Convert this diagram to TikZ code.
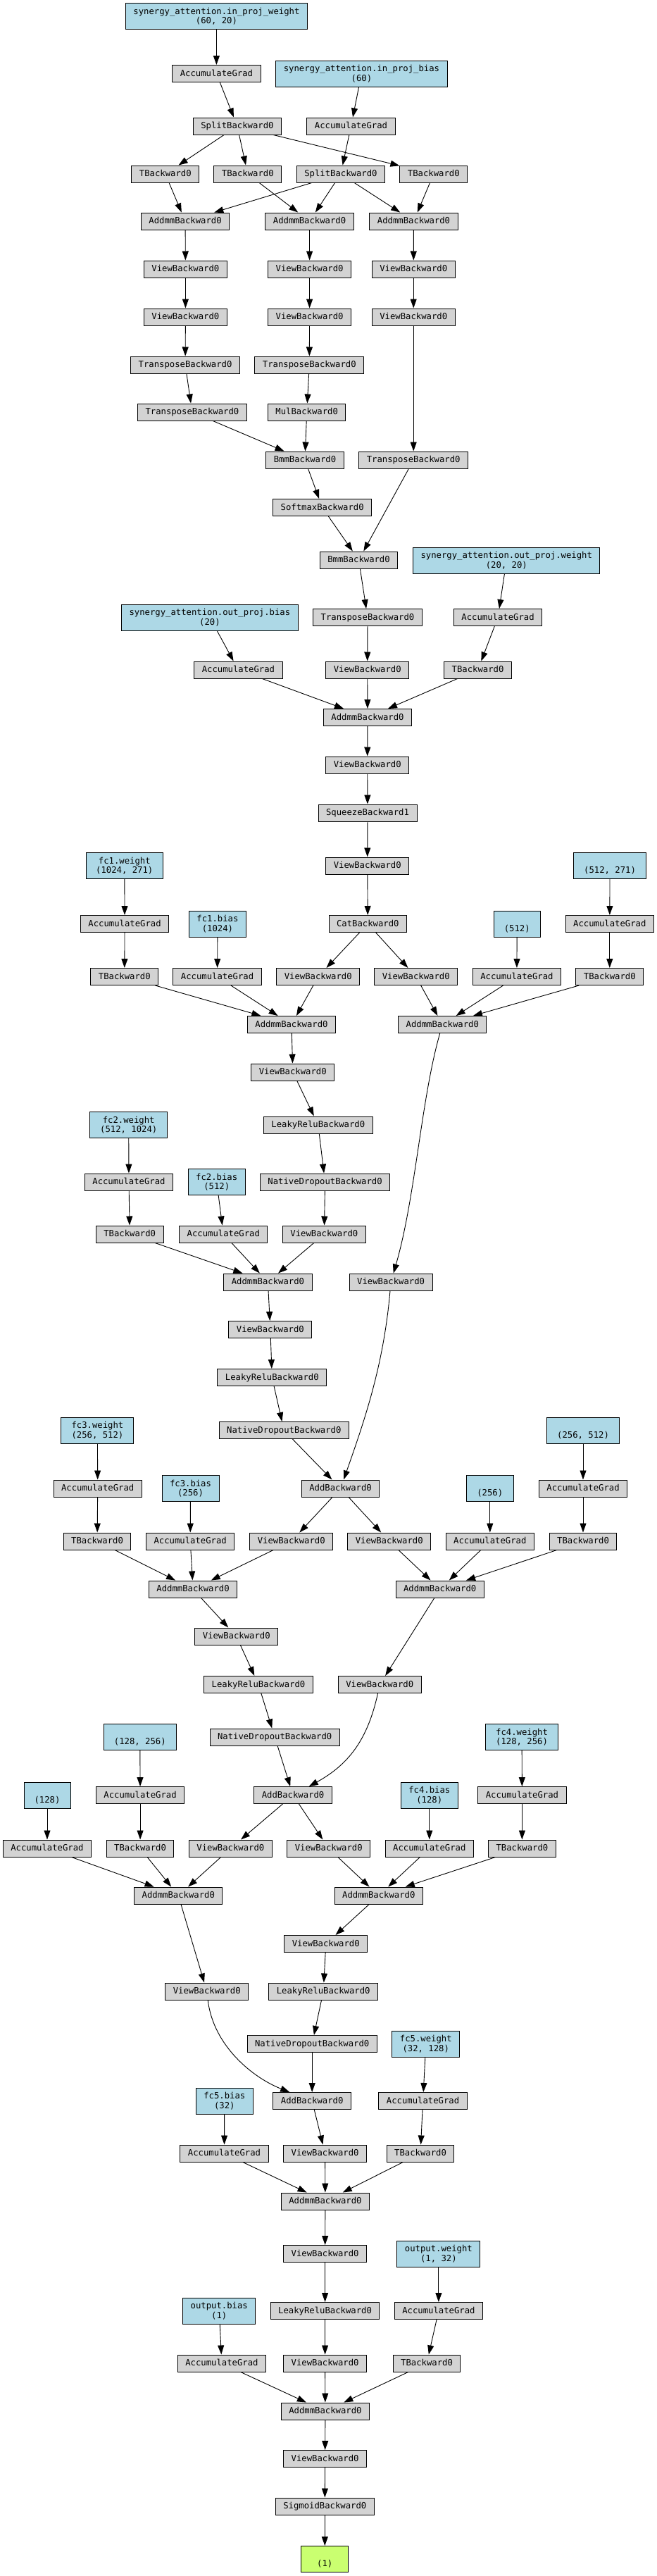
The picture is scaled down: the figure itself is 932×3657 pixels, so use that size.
\documentclass[tikz,border=0pt]{standalone}
\usepackage{fontspec}
\usepackage{xcolor}
\usetikzlibrary{arrows.meta}
\newfontfamily\boxmono{DejaVu Sans Mono}
\definecolor{fnfill}{HTML}{D3D3D3}
\definecolor{parfill}{HTML}{ADD8E6}
\definecolor{resfill}{HTML}{CAFF70}

\begin{document}
\begin{tikzpicture}[x=1pt,y=-1pt,
  fn/.style={draw, fill=fnfill, line width=1pt, minimum height=24pt, inner xsep=11pt, inner ysep=0pt, text height=9.3pt, text depth=2pt, font=\fontsize{12.25}{13.5}\boxmono},
  param/.style={draw, fill=parfill, line width=1pt, minimum height=37pt, inner xsep=11pt, inner ysep=0pt, align=center, font=\fontsize{12.25}{13.5}\boxmono},
  res/.style={param, fill=resfill},
  link/.style={line width=0.9pt, -{Triangle[length=13pt,width=9pt]}}]

\useasboundingbox (0,0) rectangle (932,3657);

\node[param] (w_in) at (307.4,23.3) {synergy\_attention.in\_proj\_weight\\(60, 20)};
\node[fn] (ag1) at (307.4,104.5) {AccumulateGrad};
\node[param] (b_in) at (513.4,104.5) {synergy\_attention.in\_proj\_bias\\(60)};
\node[fn] (split1) at (336.9,179) {SplitBackward0};
\node[fn] (ag2) at (498.5,179) {AccumulateGrad};
\node[fn] (t1) at (234.8,247) {TBackward0};
\node[fn] (t2) at (351.8,247) {TBackward0};
\node[fn] (split2) at (483.9,247) {SplitBackward0};
\node[fn] (t3) at (615.8,247) {TBackward0};
\node[fn] (addmm1) at (263.1,314) {AddmmBackward0};
\node[fn] (addmm2) at (439.6,314) {AddmmBackward0};
\node[fn] (addmm3) at (587.5,314) {AddmmBackward0};
\node[fn] (view1a) at (263.4,382) {ViewBackward0};
\node[fn] (view2a) at (439.6,382) {ViewBackward0};
\node[fn] (view3a) at (587.2,382) {ViewBackward0};
\node[fn] (view1b) at (263.4,450) {ViewBackward0};
\node[fn] (view2b) at (439.6,450) {ViewBackward0};
\node[fn] (view3b) at (587.2,450) {ViewBackward0};
\node[fn] (tr1) at (263.1,518) {TransposeBackward0};
\node[fn] (tr2) at (439.3,518) {TransposeBackward0};
\node[fn] (tr3) at (272.9,585) {TransposeBackward0};
\node[fn] (mul) at (435.7,585) {MulBackward0};
\node[fn] (bmm1) at (433.0,653) {BmmBackward0};
\node[fn] (tr4) at (587.2,653) {TransposeBackward0};
\node[fn] (softmax) at (457.7,720.5) {SoftmaxBackward0};
\node[fn] (bmm2) at (509.5,795) {BmmBackward0};
\node[param] (w_out) at (719.3,795.5) {synergy\_attention.out\_proj.weight\\(20, 20)};
\node[param] (b_out) at (297.9,876.5) {synergy\_attention.out\_proj.bias\\(20)};
\node[fn] (tr5) at (522.0,876.5) {TransposeBackward0};
\node[fn] (ag3) at (707.1,876.5) {AccumulateGrad};
\node[fn] (ag4) at (338.4,951) {AccumulateGrad};
\node[fn] (view4) at (521.7,951) {ViewBackward0};
\node[fn] (t4) at (678.6,951) {TBackward0};
\node[fn] (addmm4) at (522.0,1018.5) {AddmmBackward0};
\node[fn] (view5) at (521.7,1086) {ViewBackward0};
\node[fn] (squeeze) at (522.0,1154) {SqueezeBackward1};
\node[param, minimum width=109.5pt] (fc1w) at (176.8,1229) {fc1.weight\\(1024, 271)};
\node[fn] (view6) at (521.7,1229) {ViewBackward0};
\node[param, minimum width=102.4pt] (p1) at (866.1,1229) {\strut\\(512, 271)};
\node[fn] (ag5) at (177.1,1311.5) {AccumulateGrad};
\node[param] (fc1b) at (308.9,1311.5) {fc1.bias\\(1024)};
\node[fn] (cat) at (522.3,1311.5) {CatBackward0};
\node[param, minimum width=66pt] (p2) at (734.2,1311.5) {\strut\\(512)};
\node[fn] (ag6) at (865.8,1311.5) {AccumulateGrad};
\node[fn] (t5) at (176.8,1386.5) {TBackward0};
\node[fn] (ag7) at (308.6,1386.5) {AccumulateGrad};
\node[fn] (view7) at (451.8,1386.5) {ViewBackward0};
\node[fn] (view8) at (590.8,1386.5) {ViewBackward0};
\node[fn] (ag8) at (733.9,1386.5) {AccumulateGrad};
\node[fn] (t6) at (865.8,1386.5) {TBackward0};
\node[fn] (addmm5) at (414.0,1454.5) {AddmmBackward0};
\node[fn] (addmm6) at (628.3,1454.5) {AddmmBackward0};
\node[fn] (view9) at (415.8,1522) {ViewBackward0};
\node[param, minimum width=109.5pt] (fc2w) at (182.7,1597) {fc2.weight\\(512, 1024)};
\node[fn] (leaky1) at (451.8,1597) {LeakyReluBackward0};
\node[fn] (ag9) at (183.0,1678) {AccumulateGrad};
\node[param] (fc2b) at (307.7,1678) {fc2.bias\\(512)};
\node[fn] (drop1) at (461.6,1678) {NativeDropoutBackward0};
\node[fn] (t7) at (184.2,1752) {TBackward0};
\node[fn] (ag10) at (317.3,1752) {AccumulateGrad};
\node[fn] (view10) at (460.4,1752) {ViewBackward0};
\node[fn] (addmm7) at (380.4,1820) {AddmmBackward0};
\node[fn] (view11) at (555.1,1820) {ViewBackward0};
\node[fn] (view12) at (383.9,1887.5) {ViewBackward0};
\node[fn] (leaky2) at (386.3,1955.5) {LeakyReluBackward0};
\node[param, minimum width=103pt] (fc3w) at (138.4,2030.5) {fc3.weight\\(256, 512)};
\node[fn] (drop2) at (403.3,2030.5) {NativeDropoutBackward0};
\node[param, minimum width=102.4pt] (p3) at (828.0,2030.5) {\strut\\(256, 512)};
\node[fn] (ag11) at (138.7,2113) {AccumulateGrad};
\node[param] (fc3b) at (270.5,2113) {fc3.bias\\(256)};
\node[fn] (add1) at (483.6,2113) {AddBackward0};
\node[param, minimum width=66.7pt] (p4) at (695.8,2113) {\strut\\(256)};
\node[fn] (ag12) at (828.0,2113) {AccumulateGrad};
\node[fn] (t8) at (138.1,2188) {TBackward0};
\node[fn] (ag13) at (270.2,2188) {AccumulateGrad};
\node[fn] (view13) at (413.7,2188) {ViewBackward0};
\node[fn] (view14) at (552.7,2188) {ViewBackward0};
\node[fn] (ag14) at (695.8,2188) {AccumulateGrad};
\node[fn] (t9) at (828.0,2188) {TBackward0};
\node[fn] (addmm8) at (274.1,2256) {AddmmBackward0};
\node[fn] (addmm9) at (624.7,2256) {AddmmBackward0};
\node[fn] (view15) at (335.7,2323) {ViewBackward0};
\node[fn] (leaky3) at (367.0,2391.5) {LeakyReluBackward0};
\node[fn] (view16) at (539.3,2391.5) {ViewBackward0};
\node[param, minimum width=102.4pt] (p5) at (198.8,2466) {\strut\\(128, 256)};
\node[fn] (drop3) at (390.2,2466) {NativeDropoutBackward0};
\node[param, minimum width=102.4pt] (fc4w) at (741.1,2466) {fc4.weight\\(128, 256)};
\node[param, minimum width=66pt] (p6) at (67.0,2548.5) {\strut\\(128)};
\node[fn] (ag15) at (199.1,2548.5) {AccumulateGrad};
\node[fn] (add2) at (416.1,2548.5) {AddBackward0};
\node[param] (fc4b) at (609.8,2548.5) {fc4.bias\\(128)};
\node[fn] (ag16) at (741.4,2548.5) {AccumulateGrad};
\node[fn] (ag17) at (67.0,2624) {AccumulateGrad};
\node[fn] (t10) at (199.1,2624) {TBackward0};
\node[fn] (view17) at (327.4,2624) {ViewBackward0};
\node[fn] (view18) at (466.7,2624) {ViewBackward0};
\node[fn] (ag18) at (609.8,2624) {AccumulateGrad};
\node[fn] (t11) at (741.4,2624) {TBackward0};
\node[fn] (addmm10) at (253.3,2691) {AddmmBackward0};
\node[fn] (addmm11) at (537.8,2691) {AddmmBackward0};
\node[fn] (view19) at (462.8,2759.5) {ViewBackward0};
\node[fn] (view20) at (293.75,2827) {ViewBackward0};
\node[fn] (leaky4) at (459.2,2827) {LeakyReluBackward0};
\node[fn] (drop4) at (443.2,2901.5) {NativeDropoutBackward0};
\node[param, minimum width=95.2pt] (fc5w) at (604.8,2901.5) {fc5.weight\\(32, 128)};
\node[param] (fc5b) at (318.75,2982.5) {fc5.bias\\(32)};
\node[fn] (add3) at (443.2,2982.5) {AddBackward0};
\node[fn] (ag19) at (600.6,2982.5) {AccumulateGrad};
\node[fn] (ag20) at (318.5,3057) {AccumulateGrad};
\node[fn] (view21) at (461.6,3057) {ViewBackward0};
\node[fn] (t12) at (597.0,3057) {TBackward0};
\node[fn] (addmm12) at (461.9,3125) {AddmmBackward0};
\node[fn] (view22) at (461.6,3199.5) {ViewBackward0};
\node[param] (ow) at (622.9,3199.5) {output.weight\\(1, 32)};
\node[param] (ob) at (311.3,3280.5) {output.bias\\(1)};
\node[fn] (leaky5) at (461.6,3280.5) {LeakyReluBackward0};
\node[fn] (ag21) at (622.9,3280.5) {AccumulateGrad};
\node[fn] (ag22) at (314.9,3355) {AccumulateGrad};
\node[fn] (view23) at (461.6,3355) {ViewBackward0};
\node[fn] (t13) at (606.0,3355) {TBackward0};
\node[fn] (addmm13) at (461.9,3423) {AddmmBackward0};
\node[fn] (view24) at (461.6,3490.5) {ViewBackward0};
\node[fn] (sigmoid) at (461.3,3558) {SigmoidBackward0};
\node[res, minimum width=66.7pt] (out) at (461.3,3633) {\strut\\(1)};

\draw[link] (w_in) -- (ag1);
\draw[link] (ag1) -- (split1);
\draw[link] (b_in) -- (ag2);
\draw[link] (ag2) -- (split2);
\draw[link] (split1) -- (t1);
\draw[link] (split1) -- (t2);
\draw[link] (split1) -- (t3);
\draw[link] (t1) -- (addmm1);
\draw[link] (split2) -- (addmm1);
\draw[link] (t2) -- (addmm2);
\draw[link] (split2) -- (addmm2);
\draw[link] (split2) -- (addmm3);
\draw[link] (t3) -- (addmm3);
\draw[link] (addmm1) -- (view1a);
\draw[link] (view1a) -- (view1b);
\draw[link] (view1b) -- (tr1);
\draw[link] (tr1) -- (tr3);
\draw[link] (tr3) -- (bmm1);
\draw[link] (addmm2) -- (view2a);
\draw[link] (view2a) -- (view2b);
\draw[link] (view2b) -- (tr2);
\draw[link] (tr2) -- (mul);
\draw[link] (mul) -- (bmm1);
\draw[link] (addmm3) -- (view3a);
\draw[link] (view3a) -- (view3b);
\draw[link] (view3b) -- (tr4);
\draw[link] (tr4) -- (bmm2);
\draw[link] (bmm1) -- (softmax);
\draw[link] (softmax) -- (bmm2);
\draw[link] (bmm2) -- (tr5);
\draw[link] (tr5) -- (view4);
\draw[link] (w_out) -- (ag3);
\draw[link] (ag3) -- (t4);
\draw[link] (b_out) -- (ag4);
\draw[link] (ag4) -- (addmm4);
\draw[link] (view4) -- (addmm4);
\draw[link] (t4) -- (addmm4);
\draw[link] (addmm4) -- (view5);
\draw[link] (view5) -- (squeeze);
\draw[link] (squeeze) -- (view6);
\draw[link] (view6) -- (cat);
\draw[link] (fc1w) -- (ag5);
\draw[link] (ag5) -- (t5);
\draw[link] (fc1b) -- (ag7);
\draw[link] (cat) -- (view7);
\draw[link] (cat) -- (view8);
\draw[link] (p1) -- (ag6);
\draw[link] (ag6) -- (t6);
\draw[link] (p2) -- (ag8);
\draw[link] (t5) -- (addmm5);
\draw[link] (ag7) -- (addmm5);
\draw[link] (view7) -- (addmm5);
\draw[link] (view8) -- (addmm6);
\draw[link] (ag8) -- (addmm6);
\draw[link] (t6) -- (addmm6);
\draw[link] (addmm5) -- (view9);
\draw[link] (view9) -- (leaky1);
\draw[link] (leaky1) -- (drop1);
\draw[link] (drop1) -- (view10);
\draw[link] (fc2w) -- (ag9);
\draw[link] (ag9) -- (t7);
\draw[link] (fc2b) -- (ag10);
\draw[link] (t7) -- (addmm7);
\draw[link] (ag10) -- (addmm7);
\draw[link] (view10) -- (addmm7);
\draw[link] (addmm6) .. controls (598,1560) and (590,1700) .. (view11);
\draw[link] (addmm7) -- (view12);
\draw[link] (view12) -- (leaky2);
\draw[link] (leaky2) -- (drop2);
\draw[link] (drop2) -- (add1);
\draw[link] (view11) .. controls (545,1935) and (520,2010) .. (add1);
\draw[link] (fc3w) -- (ag11);
\draw[link] (ag11) -- (t8);
\draw[link] (fc3b) -- (ag13);
\draw[link] (add1) -- (view13);
\draw[link] (add1) -- (view14);
\draw[link] (p3) -- (ag12);
\draw[link] (ag12) -- (t9);
\draw[link] (p4) -- (ag14);
\draw[link] (t8) -- (addmm8);
\draw[link] (ag13) -- (addmm8);
\draw[link] (view13) -- (addmm8);
\draw[link] (view14) -- (addmm9);
\draw[link] (ag14) -- (addmm9);
\draw[link] (t9) -- (addmm9);
\draw[link] (addmm8) -- (view15);
\draw[link] (view15) -- (leaky3);
\draw[link] (leaky3) -- (drop3);
\draw[link] (drop3) -- (add2);
\draw[link] (addmm9) -- (view16);
\draw[link] (view16) .. controls (522,2470) and (495,2505) .. (add2);
\draw[link] (p5) -- (ag15);
\draw[link] (ag15) -- (t10);
\draw[link] (p6) -- (ag17);
\draw[link] (add2) -- (view17);
\draw[link] (add2) -- (view18);
\draw[link] (fc4b) -- (ag18);
\draw[link] (fc4w) -- (ag16);
\draw[link] (ag16) -- (t11);
\draw[link] (ag17) -- (addmm10);
\draw[link] (t10) -- (addmm10);
\draw[link] (view17) -- (addmm10);
\draw[link] (view18) -- (addmm11);
\draw[link] (ag18) -- (addmm11);
\draw[link] (t11) -- (addmm11);
\draw[link] (addmm10) -- (view20);
\draw[link] (addmm11) -- (view19);
\draw[link] (view19) -- (leaky4);
\draw[link] (leaky4) -- (drop4);
\draw[link] (drop4) -- (add3);
\draw[link] (view20) .. controls (303,2905) and (360,2950) .. (add3);
\draw[link] (fc5w) -- (ag19);
\draw[link] (ag19) -- (t12);
\draw[link] (fc5b) -- (ag20);
\draw[link] (add3) -- (view21);
\draw[link] (ag20) -- (addmm12);
\draw[link] (view21) -- (addmm12);
\draw[link] (t12) -- (addmm12);
\draw[link] (addmm12) -- (view22);
\draw[link] (view22) -- (leaky5);
\draw[link] (leaky5) -- (view23);
\draw[link] (ow) -- (ag21);
\draw[link] (ag21) -- (t13);
\draw[link] (ob) -- (ag22);
\draw[link] (ag22) -- (addmm13);
\draw[link] (view23) -- (addmm13);
\draw[link] (t13) -- (addmm13);
\draw[link] (addmm13) -- (view24);
\draw[link] (view24) -- (sigmoid);
\draw[link] (sigmoid) -- (out);

\end{tikzpicture}
\end{document}
